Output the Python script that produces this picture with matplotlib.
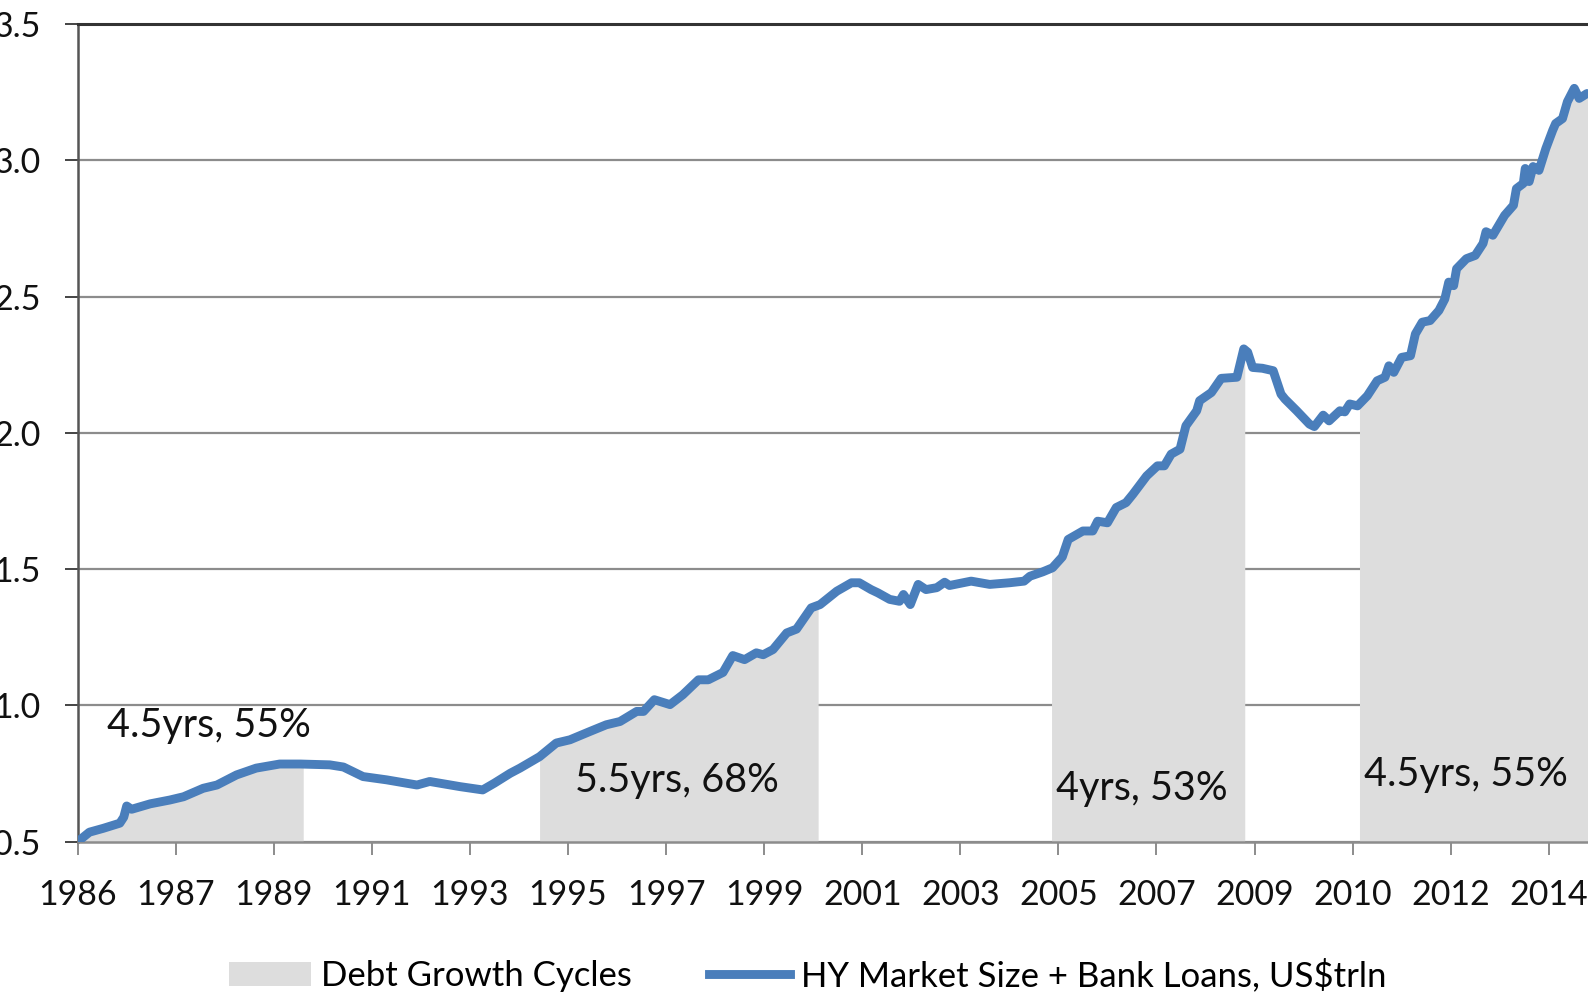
import numpy as np
import matplotlib.pyplot as plt
from matplotlib.patches import Patch
from matplotlib.lines import Line2D

# position along the (category) date axis, in tick steps, and market size in US$trln
pos = [0.00, 0.12, 0.26, 0.43, 0.47, 0.50, 0.55, 0.74, 0.94, 1.08,
       1.28, 1.42, 1.62, 1.82, 2.06, 2.27, 2.57, 2.71, 2.91, 3.15,
       3.46, 3.59, 3.90, 4.13, 4.25, 4.41, 4.51, 4.71, 4.88, 5.02,
       5.22, 5.39, 5.53, 5.70, 5.77, 5.88, 6.04, 6.17, 6.33, 6.43,
       6.58, 6.68, 6.80, 6.92, 6.99, 7.09, 7.23, 7.33, 7.48, 7.57,
       7.74, 7.89, 7.97, 8.09, 8.16, 8.28, 8.38, 8.42, 8.49, 8.57,
       8.65, 8.76, 8.84, 8.89, 9.11, 9.30, 9.50, 9.65, 9.71, 9.84,
       9.94, 10.04, 10.10, 10.25, 10.35, 10.40, 10.50, 10.59, 10.69, 10.76,
       10.90, 11.01, 11.08, 11.15, 11.24, 11.30, 11.41, 11.44, 11.56, 11.66,
       11.82, 11.89, 11.93, 11.98, 12.08, 12.19, 12.27, 12.31, 12.43, 12.56,
       12.61, 12.70, 12.76, 12.87, 12.92, 12.97, 13.05, 13.15, 13.25, 13.33,
       13.37, 13.42, 13.50, 13.59, 13.64, 13.71, 13.79, 13.88, 13.94, 13.98,
       14.03, 14.06, 14.16, 14.25, 14.33, 14.36, 14.43, 14.55, 14.64, 14.67,
       14.74, 14.76, 14.80, 14.84, 14.90, 14.97, 15.04, 15.07, 15.14, 15.19,
       15.26, 15.31, 15.39]
size = [0.500, 0.535, 0.549, 0.568, 0.590, 0.631, 0.619, 0.639, 0.653, 0.665,
        0.696, 0.708, 0.745, 0.770, 0.785, 0.785, 0.782, 0.774, 0.739, 0.727,
        0.708, 0.721, 0.702, 0.690, 0.715, 0.751, 0.770, 0.812, 0.862, 0.874,
        0.904, 0.929, 0.941, 0.978, 0.978, 1.021, 1.003, 1.039, 1.094, 1.094,
        1.121, 1.183, 1.168, 1.193, 1.186, 1.205, 1.266, 1.280, 1.358, 1.370,
        1.419, 1.450, 1.450, 1.425, 1.413, 1.389, 1.382, 1.407, 1.370, 1.444,
        1.425, 1.432, 1.452, 1.440, 1.456, 1.444, 1.450, 1.456, 1.474, 1.490,
        1.505, 1.545, 1.609, 1.640, 1.640, 1.676, 1.670, 1.726, 1.744, 1.775,
        1.842, 1.879, 1.879, 1.922, 1.940, 2.026, 2.081, 2.118, 2.148, 2.200,
        2.204, 2.308, 2.296, 2.240, 2.237, 2.228, 2.142, 2.124, 2.081, 2.032,
        2.023, 2.065, 2.044, 2.081, 2.077, 2.106, 2.099, 2.136, 2.191, 2.204,
        2.246, 2.222, 2.277, 2.283, 2.363, 2.406, 2.412, 2.449, 2.491, 2.553,
        2.540, 2.602, 2.639, 2.651, 2.695, 2.738, 2.725, 2.798, 2.835, 2.896,
        2.915, 2.970, 2.922, 2.977, 2.963, 3.043, 3.110, 3.135, 3.153, 3.215,
        3.264, 3.227, 3.245]

year_labels = ["1986", "1987", "1989", "1991", "1993", "1995", "1997", "1999",
               "2001", "2003", "2005", "2007", "2009", "2010", "2012", "2014"]

cycle_start = [0.00, 4.71, 9.93, 13.07]
cycle_end = [2.30, 7.55, 11.90, 15.40]
cycle_text = ["4.5yrs, 55%", "5.5yrs, 68%", "4yrs, 53%", "4.5yrs, 55%"]

BLUE = "#4A7EBB"
SHADE = "#DDDDDD"

plt.rcParams['font.family'] = ['Lato', 'DejaVu Sans']

pos = np.array(pos)
size = np.array(size)

fig = plt.figure(figsize=(15.88, 9.92), dpi=100)
ax = fig.add_axes([0.0489, 0.1515, 0.9511, 0.8243])

# shaded debt growth cycles, following the line
for s, e in zip(cycle_start, cycle_end):
    inside = (pos > s) & (pos < e)
    xs = np.concatenate([[s], pos[inside], [e]])
    ys = np.concatenate([[np.interp(s, pos, size)], size[inside],
                         [np.interp(e, pos, size)]])
    ax.fill_between(xs, 0, ys, color=SHADE, lw=0, zorder=1)

ax.plot(pos, size, color=BLUE, lw=6.4, solid_capstyle='round',
        solid_joinstyle='round', zorder=3)

# cycle labels
label_xy = [(1.34, 0.925), (6.11, 0.723), (10.85, 0.694), (14.16, 0.745)]
for (x, y), txt in zip(label_xy, cycle_text):
    ax.text(x, y, txt, ha='center', va='center', fontsize=28.5, color='#111111',
            zorder=4)

ax.set_xlim(0, 15.40)
ax.set_ylim(0.5, 3.5)
ax.set_xticks(range(len(year_labels)))
ax.set_xticklabels(year_labels)
ax.set_yticks(np.arange(0.5, 3.51, 0.5))
ax.set_yticklabels([f"{v:.1f}" for v in np.arange(0.5, 3.51, 0.5)])

ax.yaxis.grid(True, color='#8C8C8C', lw=1.6, zorder=0)
ax.set_axisbelow(True)
ax.tick_params(axis='both', labelsize=24.5, colors='#111111', length=9.5,
               width=1.4)
ax.tick_params(axis='x', color='#8C8C8C', pad=17)
ax.tick_params(axis='y', color='#444444', pad=17)

ax.spines['right'].set_visible(False)
ax.spines['top'].set_color('#333333')
ax.spines['top'].set_linewidth(2.2)
ax.spines['left'].set_color('#555555')
ax.spines['left'].set_linewidth(1.8)
ax.spines['bottom'].set_color('#8C8C8C')
ax.spines['bottom'].set_linewidth(1.8)

handles = [Patch(facecolor=SHADE, edgecolor='none'),
           Line2D([0], [0], color=BLUE, lw=6.4)]
fig.legend(handles, ["Debt Growth Cycles", "HY Market Size + Bank Loans, US$trln"],
           loc='center', bbox_to_anchor=(0.5086, 0.017), ncol=2, frameon=False,
           fontsize=25, handlelength=2.35, handletextpad=0.3, columnspacing=2.2)

fig.savefig("out.png", dpi=100)
